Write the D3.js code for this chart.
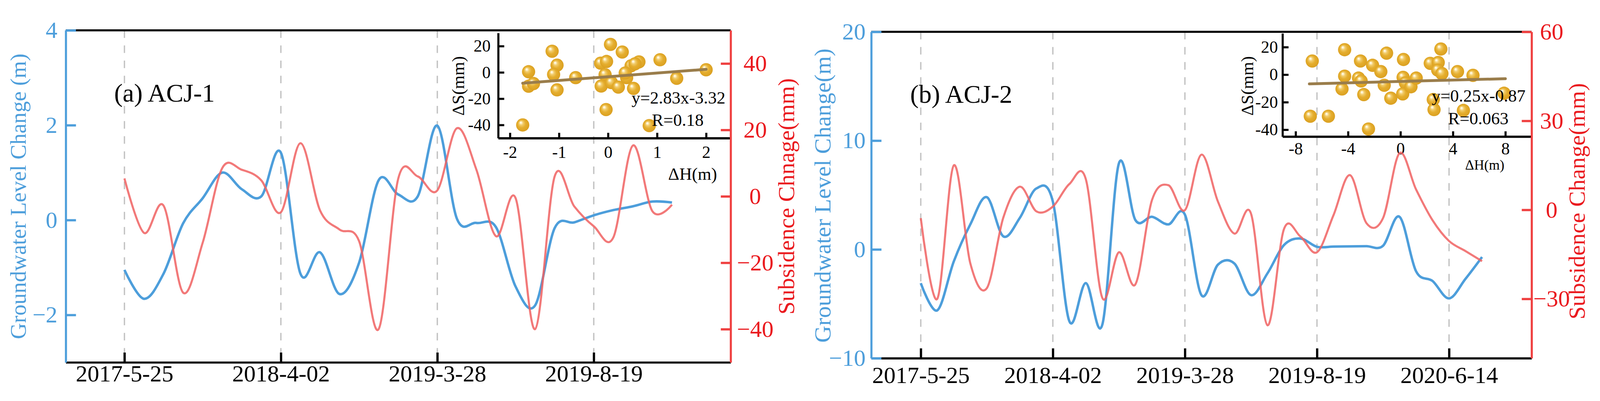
<!DOCTYPE html>
<meta charset="utf-8">
<html>
<head>
<title>Groundwater vs subsidence</title>
<style>
html, body { margin: 0; padding: 0; width: 100%; height: 100%; overflow: hidden; background: #fff; }
svg { display: block; width: 100vw; height: 100vh; }
</style>
</head>
<body>
<script src="https://d3js.org/d3.v7.min.js"></script>
<script>

// ---------- (a) ACJ-1 ----------
var gwA  = [-1.05, -1.66, -1.13, -0.07, 0.46, 1.0, 0.65, 0.5, 1.42, -1.13, -0.68, -1.56, -0.9, 0.84, 0.54,
            0.5, 1.99, 0.03, -0.06, -0.15, -1.4, -1.8, -0.17, -0.05, 0.1, 0.21, 0.29, 0.39, 0.37];
var subA = [5.4, -11, -2.8, -29, -14, 8.5, 8, 4.8, -4.8, 16, -4.2, -10, -13.5, -40, 5.3,
            6, 1.8, 20.5, 8, -12, -0.5, -40, 6, -3, -9, -12.4, 15.3, -4.5, -2.5];
var datesA   = ["2017-5-25", "2018-4-02", "2019-3-28", "2019-8-19"];
var dateIdxA = [0, 8, 16, 24];
var gwTicksA  = [-2, 0, 2, 4];
var subTicksA = [-40, -20, 0, 20, 40];

// inset scatter (a)
var dhA = [-1.14, 0.05, 0.29, -1.04, -1.62, -1.11, -0.66, -1.62, -1.52, -1.04, -0.15, -0.03, -0.06, -0.14,
           0.07, 0.21, 0.38, 0.47, 0.63, 0.52, 1.06, 1.40, 2.0, -0.04, -1.74, 0.84, 0.35, 0.55];
var dsA = [16.1, 21.3, 15.5, 5.5, 0.5, -1.6, -4.0, -10.5, -8.5, -13.3, 7.0, 8.3, -1.8, -10.4,
           -7.8, -11.2, -4.0, 5.0, 8.0, -12.2, 9.6, -4.5, 2.0, -28.3, -40, -40.5, -0.5, 6.5];
var fitXA = [-1.74, 2.0];
var fitYA = [-8.24, 2.34];
var inXTicksA = [-2, -1, 0, 1, 2];
var inYTicksA = [-40, -20, 0, 20];

// ---------- (b) ACJ-2 ----------
var gwB  = [-3.1, -5.6, -1.1, 2.3, 4.8, 1.2, 2.9, 5.6, 4.4, -6.6, -3.1, -6.9, 7.9, 2.7, 3.0, 2.3, 3.2,
            -4.2, -1.4, -1.3, -4.2, -2.2, 0.4, 1.0, 0.24, 0.26, 0.28, 0.3, 0.33, 3.0, -2.0, -2.9, -4.5, -2.7, -0.7];
var subB = [-2.8, -30, 15, -18, -26.4, -2.6, 7.8, -0.5, 1.1, 8.7, 10.3, -29.7, -14.3, -25.1, 3.2, 8.3, -0.1,
            18.6, 2.8, -8.0, -1.2, -38.9, -6.5, -9.0, -14.3, -1.8, 11.7, -4.5, -2.8, 19.1, 6.9, -3.5, -10.5, -13.9, -17.3];
var datesB   = ["2017-5-25", "2018-4-02", "2019-3-28", "2019-8-19", "2020-6-14"];
var dateIdxB = [0, 8, 16, 24, 32];
var gwTicksB  = [-10, 0, 10, 20];
var subTicksB = [-30, 0, 30, 60];

// inset scatter (b)
var dhB = [-6.73, -6.88, -5.5, -4.26, -4.26, -4.46, -3.05, -3.2, -3.0, -2.8, -2.13, -1.5, -1.24, -1.06, -0.74,
           -2.44, 0.23, 0.2, 0.37, 0.17, 0.8, 1.2, 2.27, 2.88, 2.84, 3.16, 3.08, 2.5, 2.56, 4.35, 5.53, 4.8, 7.9];
var dsB = [9.9, -30.2, -30.2, 18.1, -1.1, -10.4, 9.9, -2.5, -4.6, -14.5, 6.8, 2.2, -7.7, 15.6, -17.1,
           -39.5, 11, -2, -6, -14, -8.8, -2.5, 8.2, 8.8, 3.3, 0.8, 18.6, -18.1, -25.4, 2.2, -0.5, -26, -13.5];
var fitXB = [-6.95, 8.0];
var fitYB = [-6.7, -2.95];
var inXTicksB = [-8, -4, 0, 4, 8];
var inYTicksB = [-40, -20, 0, 20];

var serif = "'Liberation Serif', 'Times New Roman', serif";
var blue = "#4d9edb", redAxis = "#ef4040", redText = "#ea1a1f", redLine = "#f06262";
var intFmt = d3.format("d");

// the drawing is laid out on a 4233x1026 grid and scaled to the window
var svg = d3.select("body").append("svg")
    .attr("viewBox", "0 0 4233 1026")
    .attr("preserveAspectRatio", "xMidYMid meet");

svg.append("rect").attr("width", 4233).attr("height", 1026).attr("fill", "#fff");

// golden ball gradient
var grad = svg.append("defs").append("radialGradient")
    .attr("id", "ball")
    .attr("cx", "50%").attr("cy", "50%").attr("r", "55%")
    .attr("fx", "34%").attr("fy", "30%");
grad.append("stop").attr("offset", "0%").attr("stop-color", "#ffffff");
grad.append("stop").attr("offset", "10%").attr("stop-color", "#fff5d6");
grad.append("stop").attr("offset", "28%").attr("stop-color", "#f1cc6c");
grad.append("stop").attr("offset", "55%").attr("stop-color", "#e5ae2e");
grad.append("stop").attr("offset", "100%").attr("stop-color", "#d89d1e");

function drawPanel(p) {
  var x  = d3.scaleLinear().domain(p.xDomain).range([p.left, p.right]);
  var yL = d3.scaleLinear().domain(p.gwDomain).range([p.bottom, p.top]);
  var yR = d3.scaleLinear().domain(p.subDomain).range([p.bottom, p.top]);
  var g = svg.append("g");

  // dashed date grid
  g.append("g").selectAll("line")
    .data(p.dateIdx)
    .enter().append("line")
    .attr("x1", function(d) { return x(d); })
    .attr("x2", function(d) { return x(d); })
    .attr("y1", p.top)
    .attr("y2", p.bottom)
    .attr("stroke", "#c2c2c2")
    .attr("stroke-width", 3.5)
    .attr("stroke-dasharray", "20,20");

  // ---- inset scatter ----
  var ix = d3.scaleLinear().domain(p.inXDomain).range([p.inLeft, p.right]);
  var iy = d3.scaleLinear().domain(p.inYDomain).range([p.inBottom, p.inTop]);
  var ins = g.append("g");

  ins.selectAll("circle")
    .data(p.dh)
    .enter().append("circle")
    .attr("cx", function(d) { return ix(d); })
    .attr("cy", function(d, i) { return iy(p.ds[i]); })
    .attr("r", 17.5)
    .attr("fill", "url(#ball)");

  ins.append("line")
    .attr("x1", ix(p.fitX[0])).attr("y1", iy(p.fitY[0]))
    .attr("x2", ix(p.fitX[1])).attr("y2", iy(p.fitY[1]))
    .attr("stroke", "#9a7d4b")
    .attr("stroke-width", 7.5)
    .attr("stroke-linecap", "round");

  // inset labels use a plain hyphen for negatives
  var hyph = function(d) { return String(d); };

  var inY = ins.append("g")
    .attr("transform", "translate(" + p.inLeft + ",0)")
    .call(d3.axisLeft(iy).tickValues(p.inYTicks).tickFormat(hyph)
          .tickSize(-16).tickSizeOuter(0).tickPadding(p.inYPad));
  inY.attr("font-family", serif).attr("font-size", 45);
  inY.select(".domain").attr("stroke", "#000").attr("stroke-width", 5.5);
  inY.selectAll(".tick line").attr("stroke", "#000").attr("stroke-width", 5.5);
  inY.selectAll(".tick text").attr("fill", "#000");

  var inX = ins.append("g")
    .attr("transform", "translate(0," + p.inBottom + ")")
    .call(d3.axisBottom(ix).tickValues(p.inXTicks).tickFormat(hyph)
          .tickSize(-14).tickSizeOuter(0));
  inX.attr("font-family", serif).attr("font-size", 45);
  inX.select(".domain").attr("stroke", "#000").attr("stroke-width", 6);
  inX.selectAll(".tick line").attr("stroke", "#000").attr("stroke-width", 5.5);
  inX.selectAll(".tick text").attr("fill", "#000").attr("y", p.inXLab).attr("dy", 0);

  ins.append("text")
    .attr("transform", "translate(" + p.dsLab[0] + "," + p.dsLab[1] + ") rotate(-90)")
    .attr("text-anchor", "middle")
    .attr("font-family", serif).attr("font-size", 46)
    .text("\u0394S(mm)");

  ins.append("text")
    .attr("x", p.dhLab[0]).attr("y", p.dhLab[1])
    .attr("text-anchor", "end")
    .attr("font-family", serif).attr("font-size", p.dhSize)
    .text("\u0394H(m)");

  ins.append("text")
    .attr("x", p.eqPos[0]).attr("y", p.eqPos[1])
    .attr("text-anchor", "end")
    .attr("font-family", serif).attr("font-size", 46)
    .text(p.eq);

  ins.append("text")
    .attr("x", p.rPos[0]).attr("y", p.rPos[1])
    .attr("text-anchor", "middle")
    .attr("font-family", serif).attr("font-size", 46)
    .text(p.rText);

  // ---- series ----
  var gwLine = d3.line()
    .x(function(d, i) { return x(i); })
    .y(function(d) { return yL(d); })
    .curve(d3.curveCardinal.tension(0));
  var subLine = d3.line()
    .x(function(d, i) { return x(i); })
    .y(function(d) { return yR(d); })
    .curve(d3.curveCardinal.tension(0));

  g.append("path")
    .attr("d", gwLine(p.gw))
    .attr("fill", "none")
    .attr("stroke", blue)
    .attr("stroke-width", 6.5);

  g.append("path")
    .attr("d", subLine(p.sub))
    .attr("fill", "none")
    .attr("stroke", redLine)
    .attr("stroke-opacity", 0.85)
    .attr("stroke-width", 5.5);

  // ---- frame & axes ----
  g.append("line")
    .attr("x1", p.left).attr("x2", p.right)
    .attr("y1", p.top).attr("y2", p.top)
    .attr("stroke", "#000").attr("stroke-width", 5.5);

  var xAx = g.append("g")
    .attr("transform", "translate(0," + p.bottom + ")")
    .call(d3.axisBottom(x).tickValues(p.dateIdx)
          .tickFormat(function(d, i) { return p.dates[i]; })
          .tickSize(-26).tickSizeOuter(0));
  xAx.attr("font-family", serif).attr("font-size", 62);
  xAx.select(".domain").attr("stroke", "#000").attr("stroke-width", 5.5);
  xAx.selectAll(".tick line").attr("stroke", "#000").attr("stroke-width", 6);
  xAx.selectAll(".tick text").attr("fill", "#000").attr("y", p.xLab).attr("dy", 0);

  var lAx = g.append("g")
    .attr("transform", "translate(" + p.left + ",0)")
    .call(d3.axisLeft(yL).tickValues(p.gwTicks).tickFormat(intFmt)
          .tickSize(-27).tickSizeOuter(0).tickPadding(p.lPad));
  lAx.attr("font-family", serif).attr("font-size", 62);
  lAx.select(".domain").attr("stroke", blue).attr("stroke-width", 5.5);
  lAx.selectAll(".tick line").attr("stroke", blue).attr("stroke-width", 6);
  lAx.selectAll(".tick text").attr("fill", blue);

  var rAx = g.append("g")
    .attr("transform", "translate(" + p.right + ",0)")
    .call(d3.axisRight(yR).tickValues(p.subTicks).tickFormat(intFmt)
          .tickSize(-26).tickSizeOuter(0));
  rAx.attr("font-family", serif).attr("font-size", 62);
  rAx.select(".domain").attr("stroke", redAxis).attr("stroke-width", 5.5);
  rAx.selectAll(".tick line").attr("stroke", redAxis).attr("stroke-width", 6);
  rAx.selectAll(".tick text").attr("fill", redText)
    .attr("text-anchor", "middle").attr("x", p.rLab);

  // axis titles
  g.append("text")
    .attr("transform", "translate(" + p.lTitle[0] + "," + p.lTitle[1] + ") rotate(-90)")
    .attr("text-anchor", "middle")
    .attr("font-family", serif).attr("font-size", p.lTitleSize)
    .attr("fill", blue)
    .text(p.lTitleText);

  g.append("text")
    .attr("transform", "translate(" + p.rTitle[0] + "," + p.rTitle[1] + ") rotate(-90)")
    .attr("text-anchor", "middle")
    .attr("font-family", serif).attr("font-size", 62)
    .attr("fill", redText)
    .text(p.rTitleText);

  // panel title
  g.append("text")
    .attr("x", p.titlePos[0]).attr("y", p.titlePos[1])
    .attr("font-family", serif).attr("font-size", 68)
    .attr("fill", "#000")
    .text(p.title);
}

drawPanel({
  left: 174, right: 1933, top: 63, bottom: 941,
  xDomain: [-3, 31], gwDomain: [-3, 4], subDomain: [-50, 50],
  gw: gwA, sub: subA, dates: datesA, dateIdx: dateIdxA,
  gwTicks: gwTicksA, subTicks: subTicksA,
  xLab: 50, lPad: 22, rLab: 65,
  inLeft: 1318, inTop: 70, inBottom: 348,
  inXDomain: [-2.24, 2.5], inYDomain: [-50, 30],
  inXTicks: inXTicksA, inYTicks: inYTicksA, inYPad: 20, inXLab: 52,
  dh: dhA, ds: dsA, fitX: fitXA, fitY: fitYA,
  dsLab: [1228, 210], dhLab: [1897, 458], dhSize: 46,
  eq: "y=2.83x-3.32", eqPos: [1919, 257],
  rText: "R=0.18", rPos: [1793, 316],
  lTitle: [68, 502], lTitleSize: 59, lTitleText: "Groundwater Level Change (m)",
  rTitle: [2101, 502], rTitleText: "Subsidence Chnage(mm)",
  title: "(a) ACJ-1", titlePos: [302, 252]
});

drawPanel({
  left: 2305, right: 4052, top: 67, bottom: 930,
  xDomain: [-3, 37], gwDomain: [-10, 20], subDomain: [-50, 60],
  gw: gwB, sub: subB, dates: datesB, dateIdx: dateIdxB,
  gwTicks: gwTicksB, subTicks: subTicksB,
  xLab: 66, lPad: 15, rLab: 53,
  inLeft: 3393, inTop: 71, inBottom: 344,
  inXDomain: [-9, 10], inYDomain: [-45, 30],
  inXTicks: inXTicksB, inYTicks: inYTicksB, inYPad: 12, inXLab: 47,
  dh: dhB, ds: dsB, fitX: fitXB, fitY: fitYB,
  dsLab: [3315, 210], dhLab: [3980, 431], dhSize: 37,
  eq: "y=0.25x-0.87", eqPos: [4036, 252],
  rText: "R=0.063", rPos: [3911, 311],
  lTitle: [2197, 500], lTitleSize: 62, lTitleText: "Groundwater Level Change(m)",
  rTitle: [4193, 515], rTitleText: "Subsidence Change(mm)",
  title: "(b) ACJ-2", titlePos: [2408, 255]
});

</script>
</body>
</html>
